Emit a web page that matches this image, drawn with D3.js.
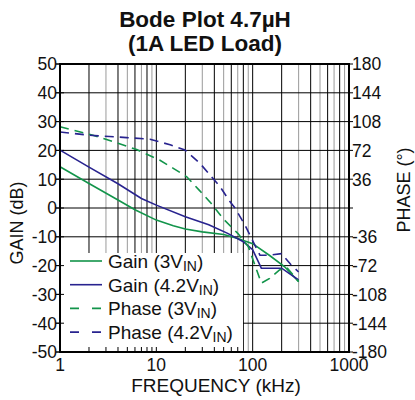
<!DOCTYPE html>
<html>
<head>
<meta charset="utf-8">
<script src="https://cdn.jsdelivr.net/npm/d3@7/dist/d3.min.js"></script>
<style>
  body { margin: 0; background: #fff; }
  text { font-family: "Liberation Sans", Arial, sans-serif; fill: #111; }
</style>
</head>
<body>
<svg id="chart" width="415" height="400"></svg>
<script>
//
// Data
//
const titleLines = ['Bode Plot 4.7\u00b5H', '(1A LED Load)'];
const gainTicks = [-50, -40, -30, -20, -10, 0, 10, 20, 30, 40, 50];
const phaseTicks = [-180, -144, -108, -72, -36, 36, 72, 108, 144, 180];
const freqTicks = [1, 10, 100, 1000];

// Gain (3V_IN)
const gain3vFreq = [1, 2, 4, 6, 10, 15, 20, 30, 50, 70, 100, 150, 215, 300];
const gain3vDb = [14.3, 8.5, 2.8, -0.6, -4.2, -6.2, -7.3, -8.3, -9.2, -10.6, -12.4, -16.5, -20.4, -25.6];

// Gain (4.2V_IN)
const gain42vFreq = [1, 2, 4, 7, 10, 20, 35, 55, 80, 100, 123, 200, 300];
const gain42vDb = [20.1, 14.2, 8.4, 3.3, 1.0, -3.0, -5.8, -8.8, -11.7, -14.5, -20.9, -20.9, -25.0];

// Phase (3V_IN)
const phase3vFreq = [1, 2.2, 4, 6.25, 10.8, 15, 20.7, 28, 37, 50, 70, 90, 110, 123, 150, 190, 225, 300];
const phase3vDeg = [101.6, 91, 81, 73, 60, 49.6, 39, 22, 5.9, -14, -31.7, -48, -77.5, -94, -88, -77.5, -74, -92];

// Phase (4.2V_IN)
const phase42vFreq = [1, 2, 4.9, 8.6, 13.9, 19.8, 28.3, 45.8, 58, 65.5, 83, 105, 119, 145, 200, 250, 300];
const phase42vDeg = [95, 91, 88, 86, 79, 72.5, 56, 26.7, 8, 0, -21, -46, -59, -59, -57, -71, -80];

const legendLabels = [
  {name: 'Gain (3V', sub: 'IN', tail: ')'},
  {name: 'Gain (4.2V', sub: 'IN', tail: ')'},
  {name: 'Phase (3V', sub: 'IN', tail: ')'},
  {name: 'Phase (4.2V', sub: 'IN', tail: ')'}
];

//
// Configuration
//
const colorGreen = '#12944a';
const colorBlue = '#28238f';
const colorGrid = '#000';
const colorGridLight = '#9a9a9a';
const dash = '9,6';
const plot = {left: 60, right: 349, top: 64, bottom: 352};

//
// Setup
//
const svg = d3.select('#chart');
const x = d3.scaleLog().domain([1, 1000]).range([plot.left, plot.right]);
const yGain = d3.scaleLinear().domain([-50, 50]).range([plot.bottom, plot.top]);
const yPhase = d3.scaleLinear().domain([-180, 180]).range([plot.bottom, plot.top]);

const series = [
  {freq: gain3vFreq, vals: gain3vDb, y: yGain, color: colorGreen, dashed: false},
  {freq: gain42vFreq, vals: gain42vDb, y: yGain, color: colorBlue, dashed: false},
  {freq: phase3vFreq, vals: phase3vDeg, y: yPhase, color: colorGreen, dashed: true},
  {freq: phase42vFreq, vals: phase42vDeg, y: yPhase, color: colorBlue, dashed: true}
];

//
// Grid
//
const minorFreqs = [];
for (let dec = 1; dec < 1000; dec *= 10) {
  for (let m = 2; m <= 9; m++) minorFreqs.push(m * dec);
}
minorFreqs.push(10, 100);

svg.append('g').selectAll('line')
    .data(minorFreqs)
    .join('line')
    .attr('x1', d => x(d)).attr('x2', d => x(d))
    .attr('y1', plot.top).attr('y2', plot.bottom)
    .attr('stroke', d => {
      const m = Math.round(d / Math.pow(10, Math.floor(Math.log10(d) + 1e-9)));
      return (m % 2 === 1 && m !== 1) ? colorGridLight : colorGrid;
    })
    .attr('stroke-width', 1);

svg.append('g').selectAll('line')
    .data(gainTicks)
    .join('line')
    .attr('x1', plot.left - 4).attr('x2', plot.right + 4)
    .attr('y1', d => yGain(d)).attr('y2', d => yGain(d))
    .attr('stroke', colorGrid)
    .attr('stroke-width', 1);

//
// Legend background (hides grid)
//
svg.append('rect')
    .attr('x', plot.left + 1).attr('y', 253)
    .attr('width', 182).attr('height', plot.bottom - 253)
    .attr('fill', '#fff');

// short ticks on bottom axis under legend
svg.append('g').selectAll('line')
    .data(minorFreqs.filter(d => x(d) < 243))
    .join('line')
    .attr('x1', d => x(d)).attr('x2', d => x(d))
    .attr('y1', plot.bottom - 5).attr('y2', plot.bottom)
    .attr('stroke', '#000');

// left ticks under legend
svg.append('g').selectAll('line')
    .data(gainTicks)
    .join('line')
    .attr('x1', plot.left - 4).attr('x2', plot.left + 4)
    .attr('y1', d => yGain(d)).attr('y2', d => yGain(d))
    .attr('stroke', '#000');

//
// Curves
//
const lineGen = (s) => d3.line()
    .x((d, i) => x(s.freq[i]))
    .y(d => s.y(d))(s.vals);

svg.append('g').selectAll('path')
    .data(series)
    .join('path')
    .attr('d', lineGen)
    .attr('fill', 'none')
    .attr('stroke', d => d.color)
    .attr('stroke-width', 1.6)
    .attr('stroke-dasharray', d => d.dashed ? dash : null);

//
// Frame
//
svg.append('rect')
    .attr('x', plot.left).attr('y', plot.top)
    .attr('width', plot.right - plot.left).attr('height', plot.bottom - plot.top)
    .attr('fill', 'none')
    .attr('stroke', '#000')
    .attr('stroke-width', 2);

//
// Axes labels
//
svg.append('g').selectAll('text')
    .data(gainTicks)
    .join('text')
    .attr('x', plot.left - 3).attr('y', d => yGain(d))
    .attr('dy', '0.36em')
    .attr('text-anchor', 'end')
    .style('font-size', '17.5px')
    .text(d => d);

svg.append('g').selectAll('text')
    .data(phaseTicks)
    .join('text')
    .attr('x', plot.right + 3).attr('y', d => yPhase(d))
    .attr('dy', '0.36em')
    .style('font-size', '17.5px')
    .text(d => d);

svg.append('g').selectAll('text')
    .data(freqTicks)
    .join('text')
    .attr('x', d => x(d)).attr('y', 371)
    .attr('text-anchor', 'middle')
    .style('font-size', '17.5px')
    .text(d => d);

svg.append('text')
    .attr('x', 216).attr('y', 392)
    .attr('text-anchor', 'middle')
    .style('font-size', '19px')
    .text('FREQUENCY (kHz)');

svg.append('text')
    .attr('transform', 'translate(23,223) rotate(-90)')
    .attr('text-anchor', 'middle')
    .style('font-size', '18px')
    .text('GAIN (dB)');

svg.append('text')
    .attr('transform', 'translate(410,190) rotate(-90)')
    .attr('text-anchor', 'middle')
    .style('font-size', '18px')
    .text('PHASE (\u00b0)');

svg.append('g').selectAll('text')
    .data(titleLines)
    .join('text')
    .attr('x', 205).attr('y', (d, i) => 27 + i * 24)
    .attr('text-anchor', 'middle')
    .style('font-size', '22.5px')
    .style('font-weight', 'bold')
    .text(d => d);

//
// Legend
//
const legend = svg.append('g').selectAll('g')
    .data(legendLabels)
    .join('g')
    .attr('transform', (d, i) => `translate(70,${261 + i * 23.7})`);

legend.append('line')
    .attr('x1', 0).attr('x2', 32)
    .attr('stroke', (d, i) => series[i].color)
    .attr('stroke-width', 1.6)
    .attr('stroke-dasharray', (d, i) => series[i].dashed ? '9,13' : null);

const legendText = legend.append('text')
    .attr('x', 38).attr('dy', '0.36em')
    .style('font-size', '19px');
legendText.append('tspan').text(d => d.name);
legendText.append('tspan').attr('dy', 3).style('font-size', '14px').text(d => d.sub);
legendText.append('tspan').attr('dy', -3).text(d => d.tail);
</script>
</body>
</html>
